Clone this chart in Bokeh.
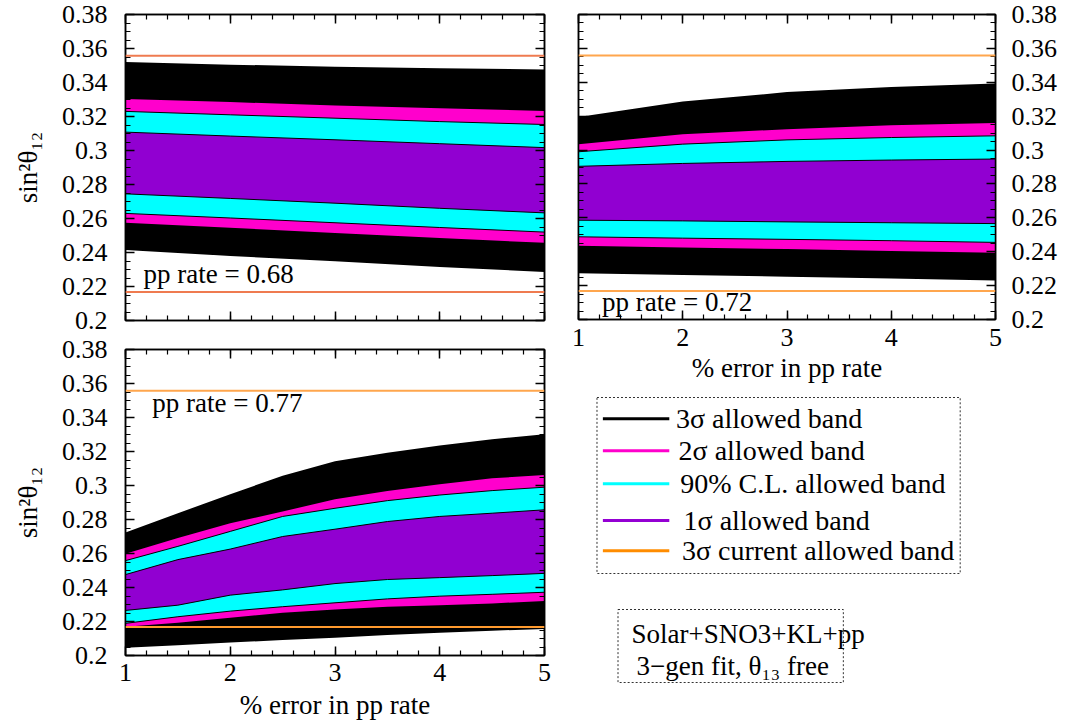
from bokeh.plotting import figure
from bokeh.models import Range1d, FixedTicker, LinearAxis, CustomJSTickFormatter, Span, Label
from bokeh.layouts import row, column
from bokeh.embed import file_html
from bokeh.resources import INLINE
from bokeh.core.properties import value

FONT = "Liberation Serif"

# ---------------- data ----------------
x_top = [1, 2, 3, 4, 5]
x_bottom = [1, 1.5, 2, 2.5, 3, 3.5, 4, 4.5, 5]

# pp rate = 0.68
a_black_top = [0.3520, 0.3505, 0.3493, 0.3484, 0.3477]
a_magenta_top = [0.3303, 0.3285, 0.3265, 0.3248, 0.3233]
a_cyan_top = [0.3230, 0.3210, 0.3190, 0.3170, 0.3153]
a_purple_top = [0.3108, 0.3085, 0.3063, 0.3040, 0.3017]
a_purple_bottom = [0.2745, 0.2718, 0.2690, 0.2660, 0.2633]
a_cyan_bottom = [0.2630, 0.2603, 0.2575, 0.2547, 0.2520]
a_magenta_bottom = [0.2575, 0.2545, 0.2515, 0.2485, 0.2457]
a_black_bottom = [0.2415, 0.2380, 0.2348, 0.2315, 0.2285]

# pp rate = 0.72
b_black_top = [0.3195, 0.3286, 0.3342, 0.3372, 0.3393]
b_magenta_top = [0.3035, 0.3093, 0.3123, 0.3147, 0.3160]
b_cyan_top = [0.2990, 0.3035, 0.3060, 0.3074, 0.3084]
b_purple_top = [0.2904, 0.2921, 0.2933, 0.2941, 0.2947]
b_purple_bottom = [0.2586, 0.2582, 0.2576, 0.2571, 0.2566]
b_cyan_bottom = [0.2488, 0.2480, 0.2473, 0.2465, 0.2455]
b_magenta_bottom = [0.2435, 0.2425, 0.2416, 0.2405, 0.2394]
b_black_bottom = [0.2273, 0.2263, 0.2253, 0.2242, 0.2230]

# pp rate = 0.77
c_black_top = [0.2724, 0.2837, 0.2948, 0.3058, 0.3143, 0.3192, 0.3235, 0.3272, 0.3301]
c_magenta_top = [0.2599, 0.2691, 0.2778, 0.2847, 0.2919, 0.2967, 0.3007, 0.3042, 0.3062]
c_cyan_top = [0.2558, 0.2642, 0.2730, 0.2818, 0.2866, 0.2911, 0.2944, 0.2970, 0.2990]
c_purple_top = [0.2476, 0.2564, 0.2626, 0.2700, 0.2743, 0.2788, 0.2818, 0.2837, 0.2857]
c_purple_bottom = [0.2265, 0.2296, 0.2355, 0.2386, 0.2423, 0.2447, 0.2458, 0.2470, 0.2483]
c_cyan_bottom = [0.2189, 0.2228, 0.2261, 0.2287, 0.2310, 0.2333, 0.2349, 0.2360, 0.2372]
c_magenta_bottom = [0.2169, 0.2193, 0.2222, 0.2251, 0.2271, 0.2287, 0.2296, 0.2306, 0.2321]
c_black_bottom = [0.2045, 0.2060, 0.2076, 0.2091, 0.2105, 0.2120, 0.2134, 0.2146, 0.2156]

current_band = [0.2168, 0.3558]   # 3 sigma current allowed band (lower, upper)

x_ticks = [1, 2, 3, 4, 5]
y_ticks = [0.2, 0.22, 0.24, 0.26, 0.28, 0.3, 0.32, 0.34, 0.36, 0.38]

panel_titles = ["pp rate = 0.68", "pp rate = 0.72", "pp rate = 0.77"]
x_title = "% error in pp rate"
y_title = "sin\u00b2\u03b8\u2081\u2082"

legend_labels = ["3\u03c3 allowed band", "2\u03c3 allowed band", "90% C.L. allowed band",
                 "1\u03c3 allowed band", "3\u03c3 current allowed band"]
legend_colors = ["#000000", "#ff00cc", "#00ffff", "#9400d3", "#ff8c00"]
info_lines = ["Solar+SNO3+KL+pp", "3\u2212gen fit, \u03b8\u2081\u2083 free"]

BAND_COLORS = {"black": "#000000", "magenta": "#ff00cc", "cyan": "#00ffff", "purple": "#9100d1"}

x_minor = [1 + 0.2 * i for i in range(21)]
y_minor = [0.2 + 0.005 * i for i in range(37)]

TICK_FS = "26px"
TITLE_FS = "27px"


def at(dx, dy):
    """offset in pixels from the frame's top-left corner -> data coords"""
    return 1 + dx * 4 / 419.0, 0.38 - dy * 0.18 / 306.0


def make_axis(kind, show):
    if kind == "x":
        tk = FixedTicker(ticks=x_ticks, minor_ticks=x_minor)
        fmt = None
    else:
        tk = FixedTicker(ticks=y_ticks, minor_ticks=y_minor)
        fmt = CustomJSTickFormatter(code="return tick.toFixed(2).replace(/0$/, '')")
    if not show:
        fmt = CustomJSTickFormatter(code="return ''")
    ax = LinearAxis(ticker=tk) if fmt is None else LinearAxis(ticker=tk, formatter=fmt)
    ax.axis_line_color = "black"
    ax.axis_line_width = 1.5
    ax.major_tick_in = 9
    ax.major_tick_out = 0
    ax.minor_tick_in = 5
    ax.minor_tick_out = 0
    ax.major_tick_line_width = 1.5
    ax.minor_tick_line_width = 1.2
    ax.major_label_text_font = FONT
    ax.major_label_text_color = "black"
    ax.major_label_text_font_size = TICK_FS if show else "0px"
    ax.major_label_standoff = 0
    ax.axis_label_text_font = FONT
    ax.axis_label_text_font_size = TITLE_FS
    ax.axis_label_text_font_style = "normal"
    ax.axis_label_text_color = "black"
    return ax


def make_panel(width, height, borders, x, bands, span_color, title, title_off,
               x_lab, y_side, y_lab):
    left, right, top, bottom = borders
    p = figure(width=width, height=height, x_range=Range1d(1, 5), y_range=Range1d(0.2, 0.38),
               output_backend="svg", toolbar_location=None,
               x_axis_type=None, y_axis_type=None,
               min_border_left=left, min_border_right=right,
               min_border_top=top, min_border_bottom=bottom)
    p.grid.visible = False
    p.outline_line_color = "black"
    p.outline_line_width = 1.5

    bx = make_axis("x", x_lab is not None)
    if x_lab is not None:
        bx.major_label_standoff = x_lab[0]
        bx.axis_label = x_title
        bx.axis_label_standoff = x_lab[1]
    p.add_layout(bx, "below")
    p.add_layout(make_axis("x", False), "above")
    for side in ("left", "right"):
        ax = make_axis("y", side == y_side)
        if side == y_side:
            ax.major_label_standoff = 18 if side == "left" else 16
            if y_lab:
                ax.axis_label = y_title
                ax.axis_label_standoff = 16
        p.add_layout(ax, side)

    (bt, bb), (mt, mb), (ct, cb), (pt, pb) = bands
    p.varea(x=x, y1=bb, y2=bt, fill_color=BAND_COLORS["black"])
    p.varea(x=x, y1=mb, y2=mt, fill_color=BAND_COLORS["magenta"])
    p.varea(x=x, y1=cb, y2=ct, fill_color=BAND_COLORS["cyan"])
    p.varea(x=x, y1=pb, y2=pt, fill_color=BAND_COLORS["purple"])
    for yy in (ct, cb, pt, pb):
        p.line(x=x, y=yy, line_color="black", line_width=1)

    for v, col in zip(current_band, span_color):
        p.add_layout(Span(location=v, dimension="width", line_color=col, line_width=2))

    tx, ty = at(*title_off)
    p.add_layout(Label(x=tx, y=ty, text=title, text_font=FONT, text_font_size="27px",
                       text_align="left", text_baseline="alphabetic", text_color="black"))
    return p


# layout (page origin at top-left):
#  A frame x 125-544, y 14-320 ; B frame x 578-997, y 14-320 ; C frame x 125-544, y 349-655
pA = make_panel(564, 335, (125, 20, 14, 15), x_top,
                [(a_black_top, a_black_bottom), (a_magenta_top, a_magenta_bottom),
                 (a_cyan_top, a_cyan_bottom), (a_purple_top, a_purple_bottom)],
                ["#ef7b50", "#ef7b50"], panel_titles[0], (18, 259.5),
                None, "left", True)

pB = make_panel(496, 385, (14, 63, 14, 65), x_top,
                [(b_black_top, b_black_bottom), (b_magenta_top, b_magenta_bottom),
                 (b_cyan_top, b_cyan_bottom), (b_purple_top, b_purple_bottom)],
                ["#ffa64d", "#ffa64d"], panel_titles[1], (23.7, 288),
                (9, 4), "right", False)

pC = make_panel(564, 387, (125, 20, 14, 67), x_bottom,
                [(c_black_top, c_black_bottom), (c_magenta_top, c_magenta_bottom),
                 (c_cyan_top, c_cyan_bottom), (c_purple_top, c_purple_bottom)],
                ["#ff9a2e", "#ffa64d"], panel_titles[2], (26.8, 53.5),
                (8, 6), "left", True)

# ---------------- legend / info panel (page x 564-1060, y 385-722) ----------------
DW, DH = 496, 337
pD = figure(width=DW, height=DH, x_range=Range1d(0, DW), y_range=Range1d(0, DH),
            x_axis_type=None, y_axis_type=None, output_backend="svg",
            toolbar_location=None, min_border=0)
pD.outline_line_color = None
pD.grid.visible = False

# page y -> local y : DH - (page_y - 385)
pD.quad(left=[22], right=[454], top=[325], bottom=[149], fill_alpha=0,
        line_color="#333333", line_width=1, line_dash="2 2")
row_y = [303.7, 271.7, 238.7, 202, 171.7]
text_x = [116, 119, 121, 125, 123]
pD.segment(x0=[29] * 5, y0=row_y, x1=[108] * 5, y1=row_y, line_color=legend_colors, line_width=3)
pD.text(x=text_x, y=row_y, text=legend_labels, text_font=value(FONT), text_font_size=value("28px"),
        text_baseline="middle", text_align="left", text_color="black")

pD.quad(left=[47], right=[315], top=[113], bottom=[40], fill_alpha=0,
        line_color="#333333", line_width=1, line_dash="2 2")
pD.text(x=[63, 69], y=[89, 57], text=info_lines, text_font=value(FONT), text_font_size=value("27px"),
        text_baseline="middle", text_align="left", text_color="black")

layout = row(column(pA, pC), column(pB, pD))
open("out.html", "w").write(file_html(layout, INLINE))
